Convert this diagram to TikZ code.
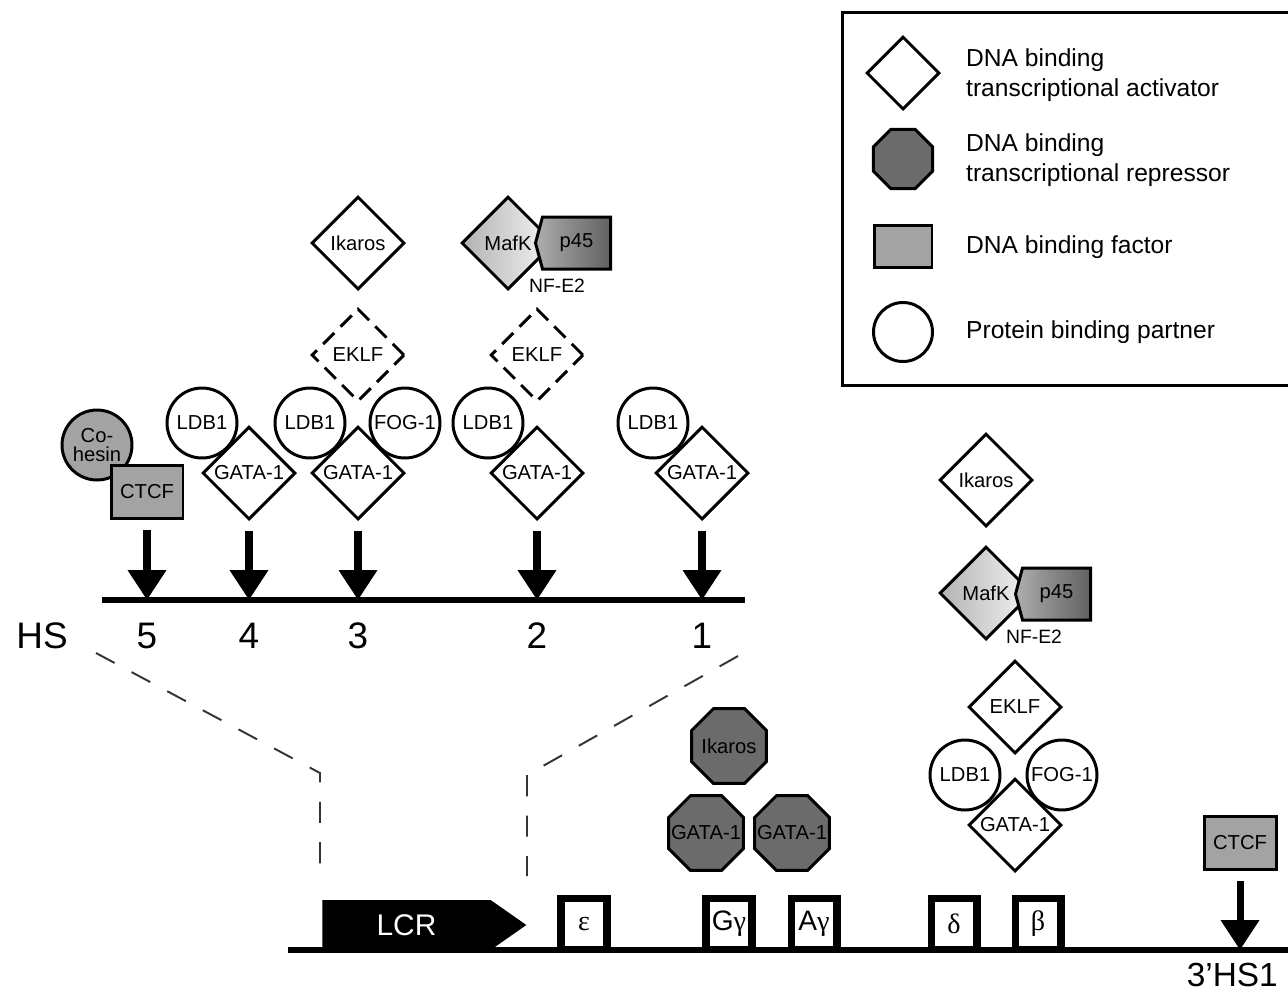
\documentclass[tikz,border=0pt]{standalone}
\usepackage{fontspec}
\setmainfont{Liberation Sans}
\newfontfamily\greekfont{Liberation Serif}
\usetikzlibrary{shapes.geometric,shapes.symbols,arrows.meta}

\newcommand{\shapetext}[1]{\makebox[0pt]{#1}}

\begin{document}
\begin{tikzpicture}[x=0.02cm,y=-0.02cm,
  every node/.style={font=\fontsize{11.5}{13}\selectfont},
  activator/.style={diamond,aspect=1,draw,line width=1.7pt,fill=white,inner sep=0pt,minimum size=1.86cm},
  maybe/.style={activator,dash pattern=on 9pt off 5pt},
  repressor/.style={regular polygon,regular polygon sides=8,draw,line width=1.7pt,fill=black!58,inner sep=0pt,minimum size=1.62cm},
  partner/.style={circle,draw,line width=1.7pt,fill=white,inner sep=0pt,minimum size=1.4cm},
  factor/.style={rectangle,draw,line width=1.7pt,fill=black!36,inner sep=0pt,minimum width=1.44cm,minimum height=1.06cm},
  mafk/.style={activator,left color=black!30,right color=black!4},
  pfs/.style={signal,signal to=west,signal pointer angle=150,draw,line width=1.7pt,left color=black!32,right color=black!62,inner sep=0pt,minimum width=1.5cm,minimum height=1.04cm},
  gene/.style={rectangle,draw,line width=4pt,fill=white,inner sep=0pt,minimum width=0.92cm,minimum height=1.03cm,font=\fontsize{16}{16}\selectfont},
  site/.style={line width=4pt,shorten <=0.2cm,-{Triangle[width=21pt,length=17pt]}},
  dna/.style={line width=3.4pt},
  zoomline/.style={line width=1.1pt,black!80,dash pattern=on 12pt off 11pt},
  hsnum/.style={font=\fontsize{21}{21}\selectfont},
  legtext/.style={anchor=west,align=left,font=\fontsize{14}{17}\selectfont}]

\useasboundingbox (0,0) rectangle (1288,992);

% Legend
\draw[line width=1.7pt] (842,12) rectangle (1300,385);

\node[activator,minimum size=1.46cm] (legact) at (903,73) {};
\node[repressor,minimum size=1.28cm] (legrep) at (903,159) {};
\node[factor,minimum width=1.16cm,minimum height=0.84cm] (legfac) at (903,246) {};
\node[partner,minimum size=1.18cm] (legpar) at (903,332) {};

\node[legtext] (legacttext) at (960,75) {DNA binding\\transcriptional activator};
\node[legtext] (legreptext) at (960,160) {DNA binding\\transcriptional repressor};
\node[legtext] (legfactext) at (960,247) {DNA binding factor};
\node[legtext] (legpartext) at (960,332) {Protein binding partner};

% HS5
\node[partner,fill=black!36,align=center,font=\fontsize{11.5}{11}\selectfont] (cohesin5) at (97,445) {Co-\\hesin};
\node[factor] (ctcf5) at (147,492) {CTCF};

% HS4
\node[partner] (ldb4) at (202,423) {LDB1};
\node[activator] (gata4) at (249,473) {GATA-1};

% HS3
\node[activator] (ikaros3) at (358,243) {Ikaros};
\node[maybe] (eklf3) at (358,355) {EKLF};
\node[partner] (ldb3) at (310,423) {LDB1};
\node[partner] (fog3) at (405,423) {FOG-1};
\node[activator] (gata3) at (358,473) {GATA-1};

% HS2
\node[mafk] (mafk2) at (508,243) {MafK};
\node[pfs,anchor=east] (pfs2) at (612,243) {p45};
\node[font=\fontsize{11}{11}\selectfont] (nfe2) at (557,286) {NF-E2};
\node[maybe] (eklf2) at (537,355) {EKLF};
\node[partner] (ldb2) at (488,423) {LDB1};
\node[activator] (gata2) at (537,473) {GATA-1};

% HS1
\node[partner] (ldb1) at (653,423) {LDB1};
\node[activator] (gata1) at (702,473) {GATA-1};

% LCR line
\coordinate (hs5) at (147,600);
\coordinate (hs4) at (249,600);
\coordinate (hs3) at (358,600);
\coordinate (hs2) at (537,600);
\coordinate (hs1) at (702,600);
\coordinate (lcrleft) at (102,600);
\coordinate (lcrright) at (745,600);
\draw[dna] (lcrleft) -- (lcrright);

\draw[site] (ctcf5) -- (hs5);
\draw[site] (gata4) -- (hs4);
\draw[site] (gata3) -- (hs3);
\draw[site] (gata2) -- (hs2);
\draw[site] (gata1) -- (hs1);

\node[hsnum] (hslabel) at (42,636) {HS};
\node[hsnum] (num5) at (147,636) {5};
\node[hsnum] (num4) at (249,636) {4};
\node[hsnum] (num3) at (358,636) {3};
\node[hsnum] (num2) at (537,636) {2};
\node[hsnum] (num1) at (702,636) {1};

% Zoom lines
\coordinate (zl0) at (96,653);
\coordinate (zl1) at (320,773);
\coordinate (zl2) at (320,876);
\coordinate (zr0) at (738,656);
\coordinate (zr1) at (527,775);
\coordinate (zr2) at (527,876);
\draw[zoomline] (zl0) -- (zl1) -- (zl2);
\draw[zoomline] (zr0) -- (zr1) -- (zr2);

% Repressors
\node[repressor] (ikarosg) at (729,746) {\shapetext{Ikaros}};
\node[repressor] (gatag1) at (706,833) {\shapetext{GATA-1}};
\node[repressor] (gatag2) at (792,833) {\shapetext{GATA-1}};

% Beta-globin promoter
\node[activator] (ikarosb) at (986,480) {Ikaros};
\node[mafk] (mafkb) at (986,593) {MafK};
\node[pfs,anchor=east] (pfsb) at (1092,594) {p45};
\node[font=\fontsize{11}{11}\selectfont] (nfe2b) at (1034,637) {NF-E2};
\node[activator] (eklfb) at (1015,707) {EKLF};
\node[partner] (ldbb) at (965,775) {LDB1};
\node[partner] (fogb) at (1062,775) {FOG-1};
\node[activator] (gatab) at (1015,825) {GATA-1};

% Locus
\node[signal,signal to=east,signal pointer angle=70,fill=black,text=white,inner sep=0pt,minimum width=4.08cm,minimum height=1.0cm,anchor=west,font=\fontsize{17}{17}\selectfont] (lcr) at (322,925) {LCR\hspace{8pt}};

\node[gene] (eps) at (584,924) {\greekfont ε};
\node[gene] (ggam) at (729,924) {G{\greekfont γ}};
\node[gene] (agam) at (814,924) {A{\greekfont γ}};
\node[gene] (delta) at (954,924) {\greekfont δ};
\node[gene] (beta) at (1038,924) {\greekfont β};

\node[factor] (ctcfb) at (1240,843) {CTCF};

\coordinate (locusleft) at (288,950);
\coordinate (locusright) at (1290,950);
\coordinate (hs3p) at (1240,950);
\draw[dna] (locusleft) -- (locusright);
\draw[site] (ctcfb) -- (hs3p);

\node[font=\fontsize{19}{19}\selectfont,anchor=east] (hs3plabel) at (1284,975) {3'HS1};

\end{tikzpicture}
\end{document}
